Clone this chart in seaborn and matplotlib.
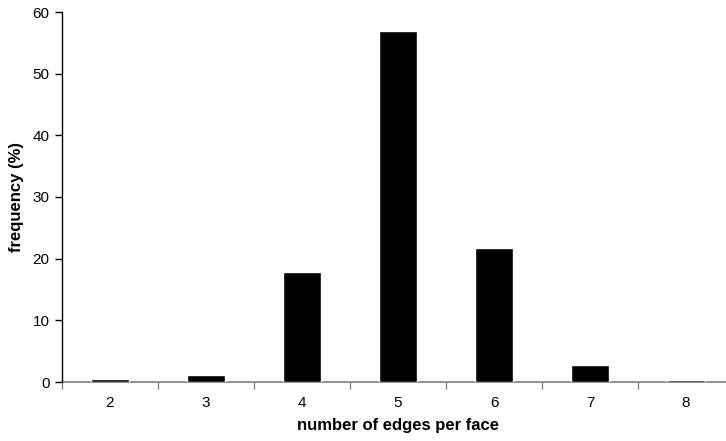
import numpy as np
import matplotlib
matplotlib.use("Agg")
import matplotlib.pyplot as plt
import seaborn as sns
import pandas as pd

# Data
edges = ["2", "3", "4", "5", "6", "7", "8"]
frequency = [0.5, 1.1, 17.8, 57.0, 21.8, 2.7, 0.4]

sns.set_style("white")
plt.rcParams["font.family"] = ["Liberation Sans", "DejaVu Sans"]
plt.rcParams["text.color"] = "black"
plt.rcParams["axes.labelcolor"] = "black"
plt.rcParams["xtick.labelcolor"] = "black"
plt.rcParams["ytick.labelcolor"] = "black"

df = pd.DataFrame({"edges": edges, "frequency": frequency})

fig = plt.figure(figsize=(7.26, 4.41), dpi=100)
ax = fig.add_axes([62 / 726, 59 / 441, 672 / 726, 370 / 441])

sns.barplot(data=df, x="edges", y="frequency", color="black",
            width=0.4, saturation=1, ax=ax, zorder=3)

ax.set_xlim(-0.5, len(edges) - 0.5)
ax.set_ylim(0, 60)
ax.set_yticks(range(0, 61, 10))

# ticks between categories on the x axis
ax.set_xticks(np.arange(-0.5, len(edges)), minor=True)
ax.tick_params(axis="x", which="major", length=0, pad=10, labelsize=11)
ax.tick_params(axis="x", which="minor", length=5, width=1, color="#808080",
               direction="out", bottom=True)
ax.tick_params(axis="y", length=5, width=1, color="black", direction="out",
               left=True, labelsize=11, pad=4)

for s in ["top", "right"]:
    ax.spines[s].set_visible(False)
ax.spines["left"].set_color("black")
ax.spines["left"].set_linewidth(1)
ax.spines["bottom"].set_color("#808080")
ax.spines["bottom"].set_linewidth(1.2)
ax.spines["bottom"].set_zorder(1)

ax.set_xlabel("number of edges per face", fontsize=12, fontweight="bold", labelpad=6)
ax.set_ylabel("frequency (%)", fontsize=12, fontweight="bold", labelpad=6)

fig.savefig("out.png", dpi=100)
